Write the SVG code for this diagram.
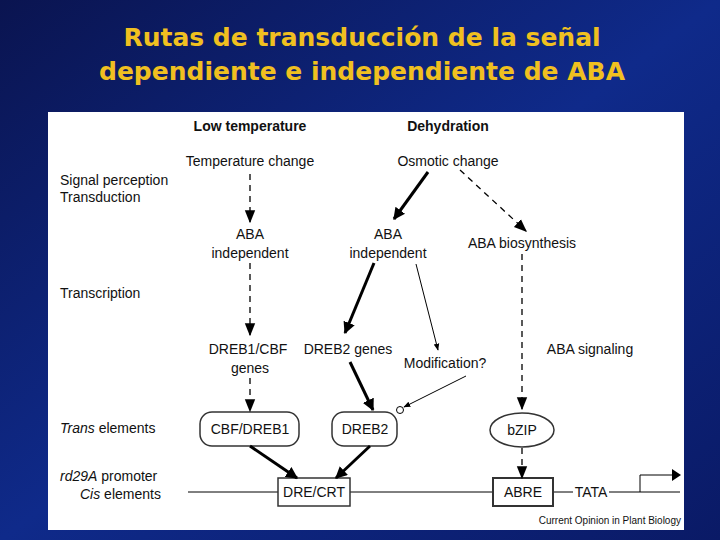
<svg xmlns="http://www.w3.org/2000/svg" width="720" height="540" viewBox="0 0 720 540">
<defs>
<linearGradient id="bg" x1="0" y1="0" x2="1" y2="1"><stop offset="0" stop-color="#0a1450"/><stop offset="0.5" stop-color="#0f2a8a"/><stop offset="1" stop-color="#0a1a66"/></linearGradient>
<marker id="ah" viewBox="0 0 10 10" refX="9" refY="5" markerWidth="4" markerHeight="4" orient="auto"><path d="M0,0L10,5L0,10z" fill="#000"/></marker>
<marker id="as" viewBox="0 0 10 10" refX="9" refY="5" markerWidth="7" markerHeight="7" orient="auto"><path d="M0,1L10,5L0,9z" fill="#000"/></marker>
<marker id="ad" viewBox="0 0 10 10" refX="9" refY="5" markerWidth="10" markerHeight="10" orient="auto"><path d="M0,1L10,5L0,9z" fill="#000"/></marker>
</defs>
<style>
text{font-family:"Liberation Sans",Arial,sans-serif;font-size:14px;fill:#111}
.t{font-family:"DejaVu Sans",sans-serif;font-size:25px;font-weight:bold;fill:#f0c020;text-anchor:middle}
.c{text-anchor:middle}
.b{font-weight:bold}
.th{stroke:#000;stroke-width:3;fill:none;marker-end:url(#ah)}
.da{stroke:#000;stroke-width:1.3;stroke-dasharray:6,5;fill:none;marker-end:url(#ad)}
.tn{stroke:#000;stroke-width:1;fill:none;marker-end:url(#as)}
.box{fill:#fff;stroke:#333;stroke-width:1.5}
</style>
<rect width="720" height="540" fill="url(#bg)"/>
<text class="t" x="362" y="46">Rutas de transducción de la señal</text>
<text class="t" x="362" y="80">dependiente e independiente de ABA</text>
<rect x="48" y="112" width="636" height="418" fill="#fff"/>
<g id="labels">
<text class="c b" x="250" y="131">Low temperature</text>
<text class="c b" x="448" y="131">Dehydration</text>
<text x="60" y="185">Signal perception</text>
<text x="60" y="202">Transduction</text>
<text x="60" y="298">Transcription</text>
<text x="60" y="433"><tspan font-style="italic">Trans</tspan> elements</text>
<text x="60" y="481"><tspan font-style="italic">rd29A</tspan> promoter</text>
<text x="80" y="499"><tspan font-style="italic">Cis</tspan> elements</text>
<text x="681" y="524" style="font-size:10px;text-anchor:end">Current Opinion in Plant Biology</text>
</g>
<g id="n-temp"><text class="c" x="250" y="166">Temperature change</text></g>
<g id="n-osm"><text class="c" x="448" y="166">Osmotic change</text></g>
<g id="n-aba1"><text class="c" x="250" y="239">ABA</text><text class="c" x="250" y="258">independent</text></g>
<g id="n-aba2"><text class="c" x="388" y="239">ABA</text><text class="c" x="388" y="258">independent</text></g>
<g id="n-bios"><text class="c" x="522" y="248">ABA biosynthesis</text></g>
<g id="n-dreb1g"><text class="c" x="248" y="354">DREB1/CBF</text><text class="c" x="250" y="373">genes</text></g>
<g id="n-dreb2g"><text class="c" x="348" y="354">DREB2 genes</text></g>
<g id="n-mod"><text class="c" x="445" y="368">Modification?</text></g>
<g id="n-abasig"><text class="c" x="590" y="354">ABA signaling</text></g>
<g id="n-cbf"><rect class="box" x="200" y="412" width="99" height="34" rx="12"/><text class="c" x="250" y="434">CBF/DREB1</text></g>
<g id="n-dreb2"><rect class="box" x="332" y="412" width="65" height="34" rx="12"/><text class="c" x="365" y="434">DREB2</text></g>
<g id="n-bzip"><ellipse class="box" cx="522" cy="430" rx="32" ry="17"/><text class="c" x="522" y="435">bZIP</text></g>
<g id="promoter">
<line x1="188" y1="492" x2="680" y2="492" stroke="#000" stroke-width="1"/>
<path d="M640,492V475H676" stroke="#000" stroke-width="1" fill="none"/>
<path d="M672,469L681,475L672,481z" fill="#000"/>
</g>
<g id="n-dre"><rect class="box" x="278" y="478" width="72" height="28"/><text class="c" x="314" y="497">DRE/CRT</text></g>
<g id="n-abre"><rect x="493" y="478" width="60" height="28" fill="#fff" stroke="#333" stroke-width="2"/><text class="c" x="523" y="497">ABRE</text></g>
<g id="n-tata"><rect x="573" y="484" width="36" height="16" fill="#fff"/><text class="c" x="591" y="497">TATA</text></g>
<g id="connectors">
<line class="da" x1="250" y1="174" x2="250" y2="222"/>
<path class="th" d="M428,172L394,219"/>
<line class="da" x1="460" y1="170" x2="526" y2="231"/>
<line class="da" x1="250" y1="263" x2="250" y2="335"/>
<path class="th" d="M374,263L345,333"/>
<path class="tn" d="M416,264L438,350"/>
<line class="da" x1="522" y1="254" x2="522" y2="409"/>
<line class="da" x1="250" y1="378" x2="250" y2="411"/>
<path class="th" d="M350,362L373,410"/>
<path class="tn" d="M466,376L404,407"/>
<circle cx="400" cy="410" r="3.5" fill="#fff" stroke="#000"/>
<path class="th" d="M250,446L297,478"/>
<path class="th" d="M370,446L336,478"/>
<line class="da" x1="522" y1="448" x2="522" y2="478"/>
</g>
</svg>
